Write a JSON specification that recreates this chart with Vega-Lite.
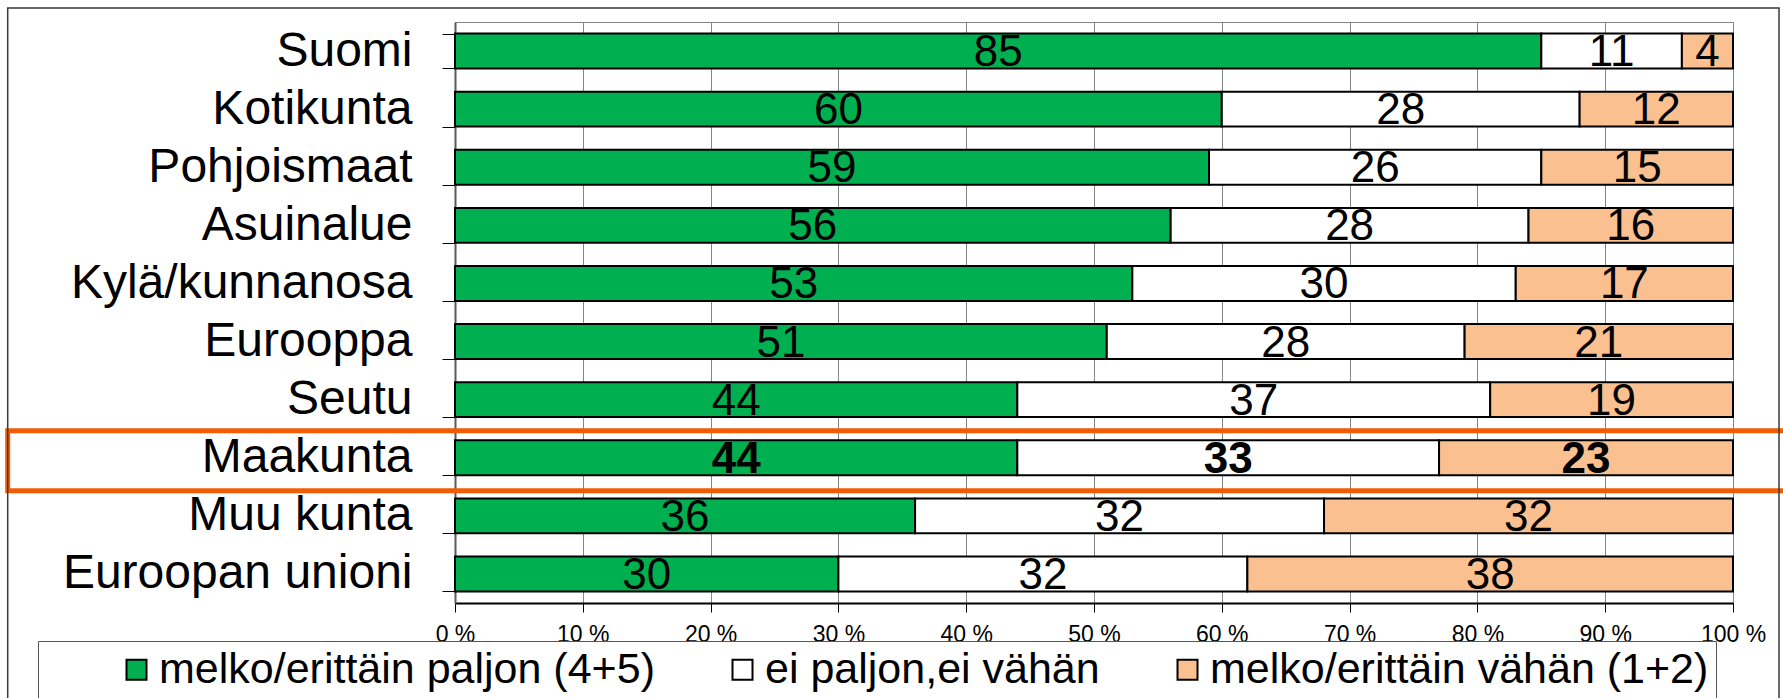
{
  "$schema": "https://vega.github.io/schema/vega-lite/v6.json",
  "width": 1278,
  "height": 581,
  "autosize": {"type": "none"},
  "padding": {"left": 455, "top": 22, "right": 50, "bottom": 95},
  "background": "white",
  "datasets": {
    "main": [
      {"cat": "Suomi", "series": "melko/erittäin paljon (4+5)", "order": 1, "value": 85},
      {"cat": "Suomi", "series": "ei paljon,ei vähän", "order": 2, "value": 11},
      {"cat": "Suomi", "series": "melko/erittäin vähän (1+2)", "order": 3, "value": 4},
      {"cat": "Kotikunta", "series": "melko/erittäin paljon (4+5)", "order": 1, "value": 60},
      {"cat": "Kotikunta", "series": "ei paljon,ei vähän", "order": 2, "value": 28},
      {"cat": "Kotikunta", "series": "melko/erittäin vähän (1+2)", "order": 3, "value": 12},
      {"cat": "Pohjoismaat", "series": "melko/erittäin paljon (4+5)", "order": 1, "value": 59},
      {"cat": "Pohjoismaat", "series": "ei paljon,ei vähän", "order": 2, "value": 26},
      {"cat": "Pohjoismaat", "series": "melko/erittäin vähän (1+2)", "order": 3, "value": 15},
      {"cat": "Asuinalue", "series": "melko/erittäin paljon (4+5)", "order": 1, "value": 56},
      {"cat": "Asuinalue", "series": "ei paljon,ei vähän", "order": 2, "value": 28},
      {"cat": "Asuinalue", "series": "melko/erittäin vähän (1+2)", "order": 3, "value": 16},
      {"cat": "Kylä/kunnanosa", "series": "melko/erittäin paljon (4+5)", "order": 1, "value": 53},
      {"cat": "Kylä/kunnanosa", "series": "ei paljon,ei vähän", "order": 2, "value": 30},
      {"cat": "Kylä/kunnanosa", "series": "melko/erittäin vähän (1+2)", "order": 3, "value": 17},
      {"cat": "Eurooppa", "series": "melko/erittäin paljon (4+5)", "order": 1, "value": 51},
      {"cat": "Eurooppa", "series": "ei paljon,ei vähän", "order": 2, "value": 28},
      {"cat": "Eurooppa", "series": "melko/erittäin vähän (1+2)", "order": 3, "value": 21},
      {"cat": "Seutu", "series": "melko/erittäin paljon (4+5)", "order": 1, "value": 44},
      {"cat": "Seutu", "series": "ei paljon,ei vähän", "order": 2, "value": 37},
      {"cat": "Seutu", "series": "melko/erittäin vähän (1+2)", "order": 3, "value": 19},
      {"cat": "Maakunta", "series": "melko/erittäin paljon (4+5)", "order": 1, "value": 44},
      {"cat": "Maakunta", "series": "ei paljon,ei vähän", "order": 2, "value": 33},
      {"cat": "Maakunta", "series": "melko/erittäin vähän (1+2)", "order": 3, "value": 23},
      {"cat": "Muu kunta", "series": "melko/erittäin paljon (4+5)", "order": 1, "value": 36},
      {"cat": "Muu kunta", "series": "ei paljon,ei vähän", "order": 2, "value": 32},
      {"cat": "Muu kunta", "series": "melko/erittäin vähän (1+2)", "order": 3, "value": 32},
      {"cat": "Euroopan unioni", "series": "melko/erittäin paljon (4+5)", "order": 1, "value": 30},
      {"cat": "Euroopan unioni", "series": "ei paljon,ei vähän", "order": 2, "value": 32},
      {"cat": "Euroopan unioni", "series": "melko/erittäin vähän (1+2)", "order": 3, "value": 38}
    ],
    "highlight": [{"cat": "Maakunta", "x1": -35, "x2": 106}],
    "frame": [{"x1": -35, "x2": 103.6, "y1": 1.0241, "y2": -0.19}]
  },
  "layer": [
    {
      "layer": [
        {
          "data": {"name": "main"},
          "transform": [
            {"stack": "value", "groupby": ["cat"], "sort": [{"field": "order"}], "as": ["v0", "v1"]}
          ],
          "mark": {"type": "bar", "stroke": "black", "strokeWidth": 2},
          "encoding": {
            "x": {
              "field": "v0", "type": "quantitative",
              "scale": {"domain": [0, 100], "nice": false},
              "axis": {
                "values": [0, 10, 20, 30, 40, 50, 60, 70, 80, 90, 100],
                "labelExpr": "datum.value + ' %'",
                "title": null,
                "grid": true, "gridColor": "#868686", "gridWidth": 1,
                "domainColor": "black", "domainWidth": 2,
                "tickColor": "black", "tickSize": 9, "tickWidth": 1,
                "labelFontSize": 23, "labelColor": "black", "labelPadding": 11,
                "labelFlush": false, "labelOverlap": false
              }
            },
            "x2": {"field": "v1"},
            "y": {
              "field": "cat", "type": "nominal",
              "scale": {
                "domain": ["Suomi", "Kotikunta", "Pohjoismaat", "Asuinalue", "Kylä/kunnanosa", "Eurooppa", "Seutu", "Maakunta", "Muu kunta", "Euroopan unioni"],
                "paddingInner": 0.4, "paddingOuter": 0.2
              },
              "axis": {
                "title": null, "tickBand": "extent",
                "tickSize": 13, "tickColor": "black", "tickWidth": 1,
                "domainColor": "#595959", "domainWidth": 2,
                "labelFontSize": 48, "labelColor": "black", "labelPadding": 30, "labelLimit": 600
              }
            },
            "color": {
              "field": "series", "type": "nominal",
              "scale": {
                "domain": ["melko/erittäin paljon (4+5)", "ei paljon,ei vähän", "melko/erittäin vähän (1+2)"],
                "range": ["#00B050", "#FFFFFF", "#FAC090"]
              },
              "legend": {
                "orient": "none", "legendX": -417, "legendY": 619,
                "direction": "horizontal",
                "title": " ", "titleOrient": "left", "titlePadding": 70, "titleFontSize": 42,
                "padding": 7, "fillColor": "white", "strokeColor": "#555555",
                "symbolType": "square", "symbolSize": 400,
                "symbolStrokeColor": "black", "symbolStrokeWidth": 2, "symbolOpacity": 1,
                "labelFontSize": 43, "labelColor": "black", "labelOffset": 1, "labelLimit": 1000,
                "columnPadding": 66
              }
            }
          }
        },
        {
          "data": {"name": "main"},
          "transform": [
            {"stack": "value", "groupby": ["cat"], "sort": [{"field": "order"}], "as": ["v0", "v1"]},
            {"calculate": "(datum.v0 + datum.v1) / 2", "as": "mid"},
            {"filter": "datum.cat !== 'Maakunta'"}
          ],
          "mark": {"type": "text", "fontSize": 44, "color": "black", "align": "center", "baseline": "middle", "dy": 2},
          "encoding": {
            "x": {"field": "mid", "type": "quantitative", "scale": {"domain": [0, 100], "nice": false}},
            "y": {"field": "cat", "type": "nominal"},
            "text": {"field": "value", "type": "quantitative"}
          }
        },
        {
          "data": {"name": "main"},
          "transform": [
            {"stack": "value", "groupby": ["cat"], "sort": [{"field": "order"}], "as": ["v0", "v1"]},
            {"calculate": "(datum.v0 + datum.v1) / 2", "as": "mid"},
            {"filter": "datum.cat === 'Maakunta'"}
          ],
          "mark": {"type": "text", "fontSize": 44, "fontWeight": "bold", "color": "black", "align": "center", "baseline": "middle", "dy": 2},
          "encoding": {
            "x": {"field": "mid", "type": "quantitative", "scale": {"domain": [0, 100], "nice": false}},
            "y": {"field": "cat", "type": "nominal"},
            "text": {"field": "value", "type": "quantitative"}
          }
        },
        {
          "data": {"name": "highlight"},
          "mark": {"type": "bar", "fill": "transparent", "stroke": "#F25C05", "strokeWidth": 5, "height": {"band": 1.72}, "yOffset": 3},
          "encoding": {
            "x": {"field": "x1", "type": "quantitative", "scale": {"domain": [0, 100], "nice": false}},
            "x2": {"field": "x2"},
            "y": {"field": "cat", "type": "nominal"}
          }
        }
      ]
    },
    {
      "data": {"name": "frame"},
      "mark": {"type": "rect", "fill": "transparent", "stroke": "#3a3a3a", "strokeWidth": 1.5},
      "encoding": {
        "x": {"field": "x1", "type": "quantitative", "scale": {"domain": [0, 100], "nice": false}},
        "x2": {"field": "x2"},
        "y": {"field": "y1", "type": "quantitative", "scale": {"domain": [0, 1], "nice": false, "zero": false}, "axis": null},
        "y2": {"field": "y2"}
      }
    }
  ],
  "resolve": {"scale": {"y": "independent"}},
  "config": {
    "font": "Liberation Sans",
    "view": {"stroke": "#868686", "strokeWidth": 1},
    "axis": {"labelFont": "Liberation Sans"},
    "legend": {"labelFont": "Liberation Sans", "titleFont": "Liberation Sans"}
  }
}
